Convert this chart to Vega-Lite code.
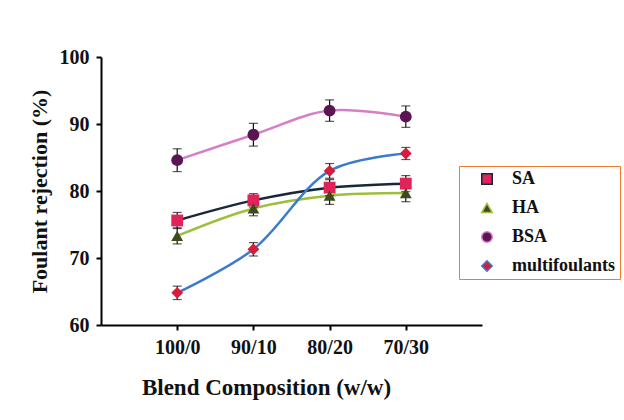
{
  "$schema": "https://vega.github.io/schema/vega-lite/v6.json",
  "width": 381,
  "height": 268,
  "autosize": {"type": "none"},
  "padding": {"left": 101, "top": 57, "right": 142, "bottom": 95},
  "background": "white",
  "config": {
    "view": {"stroke": null},
    "font": "Liberation Serif",
    "axis": {"labelFont": "Liberation Serif", "titleFont": "Liberation Serif", "labelFontWeight": "bold", "titleFontWeight": "bold", "labelColor": "#111", "titleColor": "#111", "domainColor": "#000", "tickColor": "#000", "grid": false}
  },
  "data": {"values": [
    {"series": "SA", "comp": "100/0", "value": 75.6, "lo": 74.4, "hi": 76.8},
    {"series": "SA", "comp": "90/10", "value": 78.6, "lo": 77.6, "hi": 79.6},
    {"series": "SA", "comp": "80/20", "value": 80.5, "lo": 79.3, "hi": 81.7},
    {"series": "SA", "comp": "70/30", "value": 81.1, "lo": 79.9, "hi": 82.3},
    {"series": "HA", "comp": "100/0", "value": 73.3, "lo": 72.1, "hi": 74.5},
    {"series": "HA", "comp": "90/10", "value": 77.4, "lo": 76.3, "hi": 78.5},
    {"series": "HA", "comp": "80/20", "value": 79.3, "lo": 78.0, "hi": 80.6},
    {"series": "HA", "comp": "70/30", "value": 79.7, "lo": 78.4, "hi": 81.0},
    {"series": "BSA", "comp": "100/0", "value": 84.6, "lo": 82.9, "hi": 86.3},
    {"series": "BSA", "comp": "90/10", "value": 88.4, "lo": 86.7, "hi": 90.1},
    {"series": "BSA", "comp": "80/20", "value": 92.0, "lo": 90.4, "hi": 93.6},
    {"series": "BSA", "comp": "70/30", "value": 91.1, "lo": 89.5, "hi": 92.7},
    {"series": "multifoulants", "comp": "100/0", "value": 64.8, "lo": 63.8, "hi": 65.8},
    {"series": "multifoulants", "comp": "90/10", "value": 71.3, "lo": 70.3, "hi": 72.3},
    {"series": "multifoulants", "comp": "80/20", "value": 83.0, "lo": 81.9, "hi": 84.1},
    {"series": "multifoulants", "comp": "70/30", "value": 85.6, "lo": 84.7, "hi": 86.5}
  ]},
  "encoding": {
    "x": {"field": "comp", "type": "ordinal", "sort": ["100/0", "90/10", "80/20", "70/30"],
      "scale": {"type": "point", "padding": 1},
      "axis": {"title": "Blend Composition (w/w)", "labelAngle": 0, "labelFontSize": 20, "titleFontSize": 23, "domainWidth": 2, "tickWidth": 2, "tickSize": 5, "labelPadding": 7, "titlePadding": 19, "titleX": 165}}
  },
  "layer": [
    {
      "mark": {"type": "line", "interpolate": "catmull-rom", "strokeWidth": 2.5},
      "encoding": {
        "y": {"field": "value", "type": "quantitative",
          "scale": {"domain": [60, 100], "nice": false, "zero": false},
          "axis": {"title": "Foulant rejection (%)", "values": [60, 70, 80, 90, 100], "labelFontSize": 20, "titleFontSize": 22, "domainWidth": 2, "tickWidth": 2, "tickSize": 5, "labelPadding": 7, "titlePadding": 8}},
        "stroke": {"field": "series", "type": "nominal", "sort": ["SA", "HA", "BSA", "multifoulants"],
          "scale": {"domain": ["SA", "HA", "BSA", "multifoulants"], "range": ["#16283a", "#9cbf3c", "#d67ec8", "#3b7bcc"]}}
      }
    },
    {
      "mark": {"type": "rule", "color": "#111", "strokeWidth": 1.2},
      "encoding": {"y": {"field": "lo", "type": "quantitative"}, "y2": {"field": "hi"}}
    },
    {
      "mark": {"type": "tick", "color": "#111", "thickness": 1.2, "size": 9},
      "encoding": {"y": {"field": "lo", "type": "quantitative"}}
    },
    {
      "mark": {"type": "tick", "color": "#111", "thickness": 1.2, "size": 9},
      "encoding": {"y": {"field": "hi", "type": "quantitative"}}
    },
    {
      "mark": {"type": "point", "filled": true, "opacity": 1, "size": 140},
      "encoding": {
        "y": {"field": "value", "type": "quantitative"},
        "fill": {"field": "series", "type": "nominal", "sort": ["SA", "HA", "BSA", "multifoulants"],
          "scale": {"domain": ["SA", "HA", "BSA", "multifoulants"], "range": ["#e0245a", "#3e4a1c", "#5a1552", "#d41e3c"]},
          "legend": {"title": null, "orient": "none", "legendX": 358, "legendY": 109,
            "strokeColor": "#f07a2e", "padding": 4, "rowPadding": 11,
            "labelFont": "Liberation Serif", "labelFontWeight": "bold", "labelFontSize": 18, "labelColor": "#111",
            "symbolSize": 110, "symbolStrokeWidth": 1.5, "symbolOffset": 15, "labelOffset": 16}},
        "shape": {"field": "series", "type": "nominal", "sort": ["SA", "HA", "BSA", "multifoulants"],
          "scale": {"domain": ["SA", "HA", "BSA", "multifoulants"], "range": ["square", "triangle-up", "circle", "diamond"]}}
      }
    }
  ]
}
